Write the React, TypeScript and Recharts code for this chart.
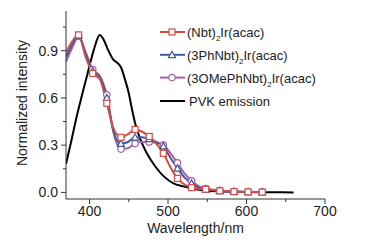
import React from 'react';
import { LineChart, Line, XAxis, YAxis, Legend } from 'recharts';

const dopedWavelengths = [370, 378, 386, 395, 404, 413, 422, 431, 440, 449, 458, 467, 476, 485, 494, 503, 512, 521, 530, 539, 548, 566, 584, 602, 620];
const markerWavelengths = [386, 404, 422, 440, 458, 476, 494, 512, 530, 548, 566, 584, 602, 620];
const nbtValues = [0.89, 0.96, 1.0, 0.86, 0.755, 0.72, 0.566, 0.4, 0.35, 0.37, 0.4, 0.385, 0.355, 0.31, 0.248, 0.16, 0.089, 0.05, 0.03, 0.022, 0.02, 0.01, 0.005, 0.003, 0.002];
const phNbtValues = [0.86, 0.94, 0.995, 0.88, 0.77, 0.735, 0.6, 0.38, 0.31, 0.32, 0.35, 0.35, 0.34, 0.32, 0.294, 0.22, 0.153, 0.095, 0.057, 0.03, 0.018, 0.01, 0.005, 0.003, 0.002];
const omeValues = [0.83, 0.92, 0.99, 0.89, 0.78, 0.74, 0.62, 0.37, 0.275, 0.28, 0.31, 0.32, 0.32, 0.315, 0.3, 0.25, 0.188, 0.12, 0.074, 0.04, 0.025, 0.012, 0.006, 0.004, 0.003];

const pvkWavelengths = [370, 376, 384, 390, 397, 406, 413, 418, 424, 430, 436, 440, 445, 450, 454, 458, 465, 473, 484, 495, 507, 520, 535, 550, 570, 600, 630, 660];
const pvkValues = [0.18, 0.31, 0.49, 0.61, 0.745, 0.915, 1.0, 0.97, 0.9, 0.845, 0.82, 0.795, 0.72, 0.63, 0.53, 0.44, 0.333, 0.248, 0.163, 0.1, 0.057, 0.038, 0.02, 0.01, 0.005, 0.002, 0.001, 0.0];

const xTicks = [400, 450, 500, 550, 600, 650, 700];
const yTicks = [0, 0.15, 0.3, 0.45, 0.6, 0.75, 0.9, 1.05];

const RED = '#d24a46';
const BLUE = '#3f5c98';
const PURPLE = '#a45fae';
const FONT = '"Liberation Sans", Arial, sans-serif';
const TEXT = '#222';

const nbtData = dopedWavelengths.map((wl, i) => ({ wl, v: nbtValues[i] }));
const phData = dopedWavelengths.map((wl, i) => ({ wl, v: phNbtValues[i] }));
const omeData = dopedWavelengths.map((wl, i) => ({ wl, v: omeValues[i] }));
const pvkData = pvkWavelengths.map((wl, i) => ({ wl, v: pvkValues[i] }));

function renderMarker(shape: string, color: string, cx: number, cy: number) {
  if (shape === 'square') return <rect x={cx - 3} y={cy - 3} width={6} height={6} fill="#fff" stroke={color} strokeWidth={1.2} />;
  if (shape === 'triangle') return <polygon points={`${cx},${cy - 3.5} ${cx + 3.5},${cy + 2.8} ${cx - 3.5},${cy + 2.8}`} fill="#fff" stroke={color} strokeWidth={1.2} />;
  return <circle cx={cx} cy={cy} r={3.2} fill="#fff" stroke={color} strokeWidth={1.2} />;
}

const makeDot = (shape: 'square' | 'triangle' | 'circle', color: string) => (props: any) => {
  const { cx, cy, payload, index } = props;
  if (!markerWavelengths.includes(payload.wl) || cx == null) return <g key={`d${index}`} />;
  return <g key={`d${index}`}>{renderMarker(shape, color, cx, cy)}</g>;
};

const BottomTick = (props: any) => {
  const { x, y, payload } = props;
  const major = payload.value % 100 === 0;
  return (
    <g>
      <line x1={x} x2={x} y1={y} y2={y + (major ? 5 : 3)} stroke="#333" strokeWidth={1} />
      {major && (
        <text x={x} y={y + 17} textAnchor="middle" fontSize={14} fontFamily={FONT} fill={TEXT}>{payload.value}</text>
      )}
    </g>
  );
};

const TopTick = (props: any) => {
  const { x, y } = props;
  return <line x1={x} x2={x} y1={y} y2={y - 2} stroke="#333" strokeWidth={1} />;
};

const LeftTick = (props: any) => {
  const { x, y, payload } = props;
  const v = Math.round(payload.value * 100) / 100;
  const major = Math.round(v * 100) % 30 === 0;
  return (
    <g>
      <line x1={x} x2={x - (major ? 5 : 3)} y1={y} y2={y} stroke="#333" strokeWidth={1} />
      {major && (
        <text x={x - 8} y={y + 5} textAnchor="end" fontSize={14} fontFamily={FONT} fill={TEXT}>{v.toFixed(1)}</text>
      )}
    </g>
  );
};

const RightTick = (props: any) => {
  const { x, y } = props;
  return <line x1={x} x2={x - 3} y1={y} y2={y} stroke="#333" strokeWidth={1} />;
};

const legendRows = [
  { color: RED, shape: 'square', pre: '(Nbt)', post: 'Ir(acac)' },
  { color: BLUE, shape: 'triangle', pre: '(3PhNbt)', post: 'Ir(acac)' },
  { color: PURPLE, shape: 'circle', pre: '(3OMePhNbt)', post: 'Ir(acac)' },
];

const LegendContent = () => (
  <div style={{ width: 0, height: 0, overflow: 'visible' }}>
    <svg width={180} height={95} style={{ display: 'block', overflow: 'visible' }}>
      {legendRows.map((r, i) => {
        const y = 10 + i * 22.8;
        return (
          <g key={i}>
            <line x1={2} x2={27} y1={y} y2={y} stroke={r.color} strokeWidth={2} />
            {renderMarker(r.shape, r.color, 14, y)}
            <text x={29} y={y + 5} fontSize={13} fontFamily={FONT} fill={TEXT}>
              {r.pre}
              <tspan fontSize={8} dy={4}>2</tspan>
              <tspan dy={-4}>{r.post}</tspan>
            </text>
          </g>
        );
      })}
      <line x1={2} x2={27} y1={79} y2={79} stroke="#000" strokeWidth={2} />
      <text x={31} y={84} fontSize={13} fontFamily={FONT} fill={TEXT}>PVK emission</text>
    </svg>
  </div>
);

export default function App() {
  return (
    <div style={{ position: 'absolute', left: 0, top: 0, background: '#fff' }}>
      <LineChart width={375} height={244} margin={{ top: 11, right: 50, bottom: 0, left: 0 }}>
        <XAxis
          xAxisId="bottom"
          dataKey="wl"
          type="number"
          domain={[370, 700]}
          ticks={xTicks}
          allowDataOverflow
          height={45}
          tickSize={0}
          tickMargin={0}
          tickLine={false}
          axisLine={{ stroke: '#333', strokeWidth: 1 }}
          tick={<BottomTick />}
          interval={0}
          label={{ value: 'Wavelength/nm', position: 'insideBottom', offset: 11, fontSize: 14, fontFamily: FONT, fill: TEXT }}
        />
        <XAxis
          xAxisId="top"
          orientation="top"
          dataKey="wl"
          type="number"
          domain={[370, 700]}
          ticks={xTicks}
          allowDataOverflow
          height={0}
          tickSize={0}
          tickMargin={0}
          tickLine={false}
          axisLine={{ stroke: '#333', strokeWidth: 1 }}
          tick={<TopTick />}
          interval={0}
        />
        <YAxis
          yAxisId="left"
          type="number"
          domain={[-0.042, 1.152]}
          ticks={yTicks}
          allowDataOverflow
          width={66}
          tickSize={0}
          tickMargin={0}
          tickLine={false}
          axisLine={{ stroke: '#333', strokeWidth: 1 }}
          tick={<LeftTick />}
          interval={0}
          label={() => (
            <text x={27} y={103} transform="rotate(-90, 27, 103)" textAnchor="middle" fontSize={14} fontFamily={FONT} fill={TEXT}>
              Normalized intensity
            </text>
          )}
        />
        <YAxis
          yAxisId="right"
          orientation="right"
          type="number"
          domain={[-0.042, 1.152]}
          ticks={yTicks}
          allowDataOverflow
          width={0}
          tickSize={0}
          tickMargin={0}
          tickLine={false}
          axisLine={{ stroke: '#333', strokeWidth: 1 }}
          tick={<RightTick />}
          interval={0}
        />
        <Legend
          content={<LegendContent />}
          wrapperStyle={{ position: 'absolute', left: 158, top: 22, width: 0, height: 0, overflow: 'visible' }}
        />
        <Line xAxisId="bottom" yAxisId="left" data={pvkData} dataKey="v" name="PVK emission" type="monotone" stroke="#000" strokeWidth={2} dot={false} isAnimationActive={false} />
        <Line xAxisId="bottom" yAxisId="left" data={omeData} dataKey="v" name="(3OMePhNbt)2Ir(acac)" type="monotone" stroke={PURPLE} strokeWidth={2} dot={makeDot('circle', PURPLE)} isAnimationActive={false} />
        <Line xAxisId="bottom" yAxisId="left" data={phData} dataKey="v" name="(3PhNbt)2Ir(acac)" type="monotone" stroke={BLUE} strokeWidth={2} dot={makeDot('triangle', BLUE)} isAnimationActive={false} />
        <Line xAxisId="bottom" yAxisId="left" data={nbtData} dataKey="v" name="(Nbt)2Ir(acac)" type="monotone" stroke={RED} strokeWidth={2} dot={makeDot('square', RED)} isAnimationActive={false} />
      </LineChart>
    </div>
  );
}
